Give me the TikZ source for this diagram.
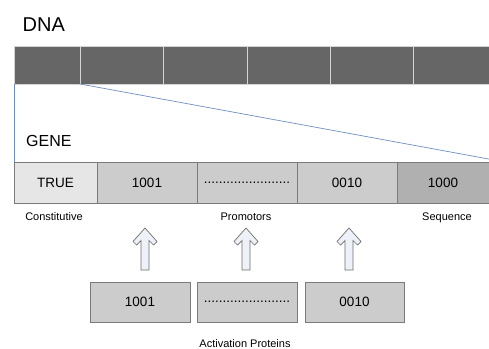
\documentclass[tikz,border=0pt]{standalone}
\usepackage{fontspec}
\setmainfont{Liberation Sans}
\definecolor{dnagray}{HTML}{666666}
\definecolor{seplight}{HTML}{D4D4D4}
\definecolor{cellborder}{HTML}{7A7A7A}
\definecolor{celllight}{HTML}{E6E6E6}
\definecolor{cellmid}{HTML}{CCCCCC}
\definecolor{celldark}{HTML}{B0B0B0}
\definecolor{zoomblue}{HTML}{6F8FC2}
\definecolor{arrowfill}{HTML}{EEF2F8}
\definecolor{arrowline}{HTML}{6E6E6E}
\begin{document}
\begin{tikzpicture}[x=1pt,y=-1pt,
  dnaseg/.style={draw=seplight,line width=0.8pt,fill=dnagray,rectangle,inner sep=0pt,outer sep=0pt,minimum height=38pt,anchor=north west},
  genecell/.style={draw=cellborder,line width=0.7pt,rectangle,inner sep=0pt,outer sep=0pt,minimum height=41pt,minimum width=100pt,anchor=north west,font=\fontsize{13.5}{16}\selectfont},
  protbox/.style={draw=cellborder,line width=0.7pt,fill=cellmid,rectangle,inner sep=0pt,outer sep=0pt,minimum height=40pt,minimum width=100pt,anchor=north west,font=\fontsize{13.5}{16}\selectfont},
  title/.style={inner sep=0pt,anchor=base west},
  lbl/.style={inner sep=0pt,anchor=base,font=\fontsize{11}{13}\selectfont},
  zoomline/.style={draw=zoomblue,line width=0.7pt},
  uparrow/.pic={\draw[arrowline,fill=arrowfill,line width=0.7pt,line join=miter]
     (0,0) -- (12,13.5) -- (8.5,17) -- (4,12.5) -- (4,42) -- (-4,42) -- (-4,12.5) -- (-8.5,17) -- (-12,13.5) -- cycle;}
]
\useasboundingbox (0,0) rectangle (489,348);
\clip (0,0) rectangle (489,348);

% DNA
\node[title,font=\fontsize{20}{24}\selectfont] (dnatitle) at (22.5,31) {DNA};
\node[dnaseg,minimum width=66pt] (d1) at (14,46) {};
\node[dnaseg,minimum width=83pt] (d2) at (80,46) {};
\node[dnaseg,minimum width=84pt] (d3) at (163,46) {};
\node[dnaseg,minimum width=83pt] (d4) at (247,46) {};
\node[dnaseg,minimum width=83pt] (d5) at (330,46) {};
\node[dnaseg,minimum width=83pt] (d6) at (413,46) {};

% GENE
\node[title,font=\fontsize{16}{19}\selectfont] (genetitle) at (26,146) {GENE};
\node[genecell,fill=celllight,minimum width=83pt] (g1) at (14,162) {TRUE};
\node[genecell,fill=cellmid] (g2) at (97,162) {1001};
\node[genecell,fill=cellmid] (g3) at (197,162) {.......................};
\node[genecell,fill=cellmid] (g4) at (297,162) {0010};
\node[genecell,fill=celldark,minimum width=108pt] (g5) at (397,162) {\hspace*{-16pt}1000};

% zoom lines
\draw[zoomline] (d1.south west) -- (g1.north west);
\draw[zoomline] (d1.south east) -- (g5.north east);

% labels
\node[lbl] (lconst) at (54,220) {Constitutive};
\node[lbl] (lprom) at (246,220) {Promotors};
\node[lbl] (lseq) at (447,220) {Sequence};

% arrows
\pic at (145,228) {uparrow};
\pic at (246,228) {uparrow};
\pic at (349,228) {uparrow};

% activation proteins
\node[protbox] (p1) at (90,282) {1001};
\node[protbox] (p2) at (197,282) {.......................};
\node[protbox,minimum width=99pt] (p3) at (305,282) {0010};
\node[lbl] (lact) at (245,347) {Activation Proteins};
\end{tikzpicture}
\end{document}
